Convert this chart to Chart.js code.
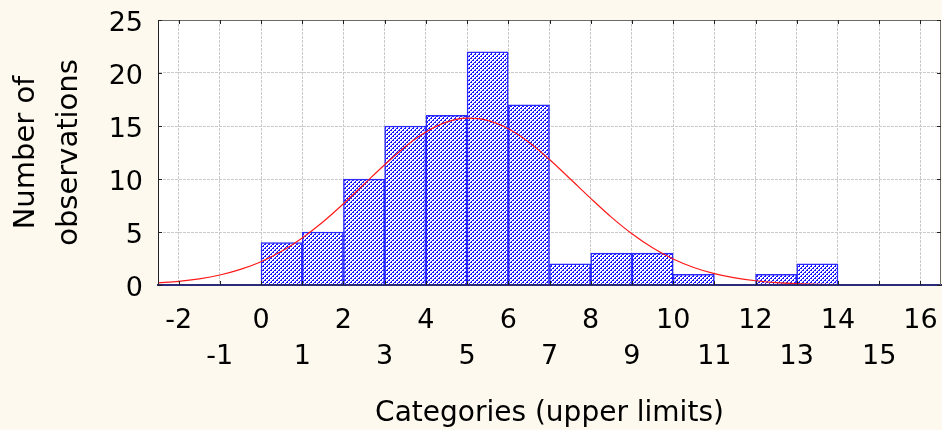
<!DOCTYPE html>
<html>
<head>
<meta charset="utf-8">
<script src="https://cdn.jsdelivr.net/npm/chart.js@4.4.1/dist/chart.umd.min.js"></script>
<style>
  html, body { margin: 0; padding: 0; background: #fef9ee; }
  #wrap { width: 942px; height: 430px; }
</style>
</head>
<body>
<div id="wrap"><canvas id="myChart" width="942" height="430"></canvas></div>
<script>
// histogram bins (upper limits) and counts
const binUpper = [0, 1, 2, 3, 4, 5, 6, 7, 8, 9, 10, 11, 12, 13, 14];
const counts = [0, 4, 5, 10, 15, 16, 22, 17, 2, 3, 3, 1, 0, 1, 2];

// expected normal curve
const curveX = [-2.5, -2, -1.5, -1, -0.5, 0, 0.5, 1, 1.5, 2, 2.5, 3, 3.5, 4, 4.5, 5, 5.5, 6, 6.5, 7,
  7.5, 8, 8.5, 9, 9.5, 10, 10.5, 11, 11.5, 12, 12.5, 13, 13.5, 14, 14.5, 15, 15.5, 16, 16.5];
const curveY = [0.2, 0.34, 0.58, 0.94, 1.47, 2.2, 3.19, 4.44, 5.94, 7.66, 9.51, 11.35, 13.05, 14.43, 15.36, 15.74,
  15.53, 14.74, 13.47, 11.84, 10.02, 8.17, 6.4, 4.83, 3.51, 2.45, 1.65, 1.07, 0.67, 0.4, 0.23, 0.13, 0.07,
  0.03, 0.02, 0.01, 0, 0, 0];

// tick labels
const xTicks = [-2, -1, 0, 1, 2, 3, 4, 5, 6, 7, 8, 9, 10, 11, 12, 13, 14, 15, 16];
const xTickLabels = ["-2", "-1", "0", "1", "2", "3", "4", "5", "6", "7", "8", "9", "10", "11", "12", "13", "14", "15", "16"];
const yTicks = [0, 5, 10, 15, 20, 25];

const FONT = "'DejaVu Sans', 'Liberation Sans', sans-serif";

function makeHatch() {
  const c = document.createElement("canvas");
  c.width = 4;
  c.height = 4;
  const g = c.getContext("2d");
  g.fillStyle = "#ffffff";
  g.fillRect(0, 0, 4, 4);
  g.fillStyle = "#1414ff";
  for (let y = 0; y < 4; y++) {
    for (let x = 0; x < 4; x++) {
      const d = (x + y) % 4;
      if (d === 0 || (d === 1 && y % 2 === 0)) g.fillRect(x, y, 1, 1);
    }
  }
  return g.createPattern(c, "repeat");
}

// no extra room for edge labels, the layout is fixed below
function noPad(axis) {
  axis.paddingTop = 0;
  axis.paddingBottom = 0;
  axis.paddingLeft = 0;
  axis.paddingRight = 0;
}

// white plot area, grey frame and inward tick marks
const frame = {
  id: "frame",
  beforeDraw(chart) {
    const { ctx, chartArea: a } = chart;
    ctx.save();
    ctx.fillStyle = "#ffffff";
    ctx.fillRect(a.left, a.top, a.width, a.height);
    ctx.restore();
  },
  afterDraw(chart) {
    const { ctx, chartArea: a, scales } = chart;
    ctx.save();
    ctx.lineWidth = 1;
    ctx.strokeStyle = "#6a6a6a";
    ctx.beginPath();
    ctx.moveTo(a.left, a.top + 0.5);
    ctx.lineTo(a.right, a.top + 0.5);
    ctx.moveTo(a.right - 0.5, a.top);
    ctx.lineTo(a.right - 0.5, a.bottom);
    ctx.stroke();

    ctx.strokeStyle = "#222222";
    ctx.beginPath();
    scales.x.ticks.forEach((t) => {
      const px = Math.round(scales.x.getPixelForValue(t.value)) + 0.5;
      ctx.moveTo(px, a.top);
      ctx.lineTo(px, a.top + 4);
      ctx.moveTo(px, a.bottom);
      ctx.lineTo(px, a.bottom - 4);
    });
    scales.y.ticks.forEach((t) => {
      const py = Math.round(scales.y.getPixelForValue(t.value)) + 0.5;
      ctx.moveTo(a.left, py);
      ctx.lineTo(a.left + 4, py);
      ctx.moveTo(a.right, py);
      ctx.lineTo(a.right - 4, py);
    });
    ctx.stroke();
    ctx.restore();
  },
};

const myChart = new Chart("myChart", {
  data: {
    datasets: [
      {
        type: "line",
        label: "Expected normal",
        data: curveX.map((x, i) => ({ x: x, y: curveY[i] })),
        borderColor: "#ff1a1a",
        borderWidth: 1.2,
        pointRadius: 0,
        cubicInterpolationMode: "monotone",
        order: 0,
      },
      {
        type: "bar",
        label: "Observations",
        data: binUpper.map((u, i) => ({ x: u - 0.5, y: counts[i] })),
        backgroundColor: makeHatch(),
        borderColor: "#2a2aff",
        borderWidth: 1.5,
        barPercentage: 1,
        categoryPercentage: 1,
        order: 1,
      },
    ],
  },
  options: {
    responsive: false,
    animation: false,
    layout: { padding: { top: 20, right: 1, left: 0, bottom: 0 } },
    plugins: {
      legend: { display: false },
      tooltip: { enabled: false },
    },
    scales: {
      x: {
        type: "linear",
        min: -2.5,
        max: 16.5,
        offset: false,
        afterBuildTicks: (axis) => {
          axis.ticks = xTicks.map((v) => ({ value: v }));
        },
        afterFit: (axis) => {
          axis.height = 145;
          noPad(axis);
        },
        grid: { color: "#cbcbcb", lineWidth: 1, drawTicks: false, offset: false },
        border: { display: true, color: "#2b2b78", width: 2, dash: [3, 1], z: 1 },
        ticks: {
          autoSkip: false,
          maxRotation: 0,
          minRotation: 0,
          padding: 18,
          color: "#000",
          font: { family: FONT, size: 27, lineHeight: "36px" },
          callback: (v, i) => (i % 2 === 0 ? [xTickLabels[i]] : ["", xTickLabels[i]]),
        },
        title: {
          display: true,
          text: "Categories (upper limits)",
          color: "#000",
          font: { family: FONT, size: 28, lineHeight: 1 },
          padding: { top: 0, bottom: 2 },
        },
      },
      y: {
        min: 0,
        max: 25,
        afterBuildTicks: (axis) => {
          axis.ticks = yTicks.map((v) => ({ value: v }));
        },
        afterFit: (axis) => {
          axis.width = 158;
          noPad(axis);
        },
        grid: { color: "#cbcbcb", lineWidth: 1, drawTicks: false },
        border: { display: true, color: "#222", width: 1, dash: [3, 1], z: 1 },
        ticks: {
          padding: 15,
          labelOffset: 4,
          color: "#000",
          font: { family: FONT, size: 27 },
        },
        title: {
          display: true,
          text: ["Number of", "observations"],
          color: "#000",
          font: { family: FONT, size: 29, lineHeight: "43px" },
          padding: { top: 5, bottom: 0 },
        },
      },
    },
  },
  plugins: [frame],
});
</script>
</body>
</html>
